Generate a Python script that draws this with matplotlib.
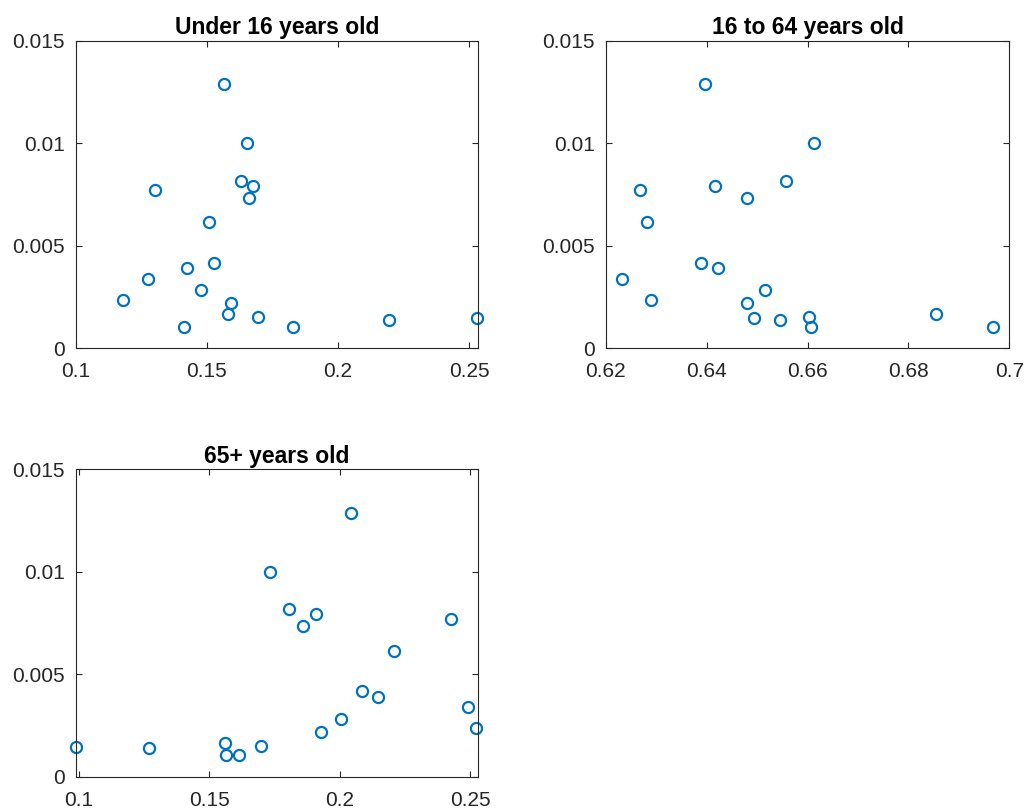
import matplotlib
matplotlib.use("Agg")
import matplotlib.pyplot as plt
from matplotlib.ticker import FuncFormatter, FixedLocator

# Shared y values (rate) for each of the 19 regions
rate = [0.01288, 0.01000, 0.00817, 0.00793, 0.00735, 0.00771, 0.00615, 0.00417,
        0.00391, 0.00339, 0.00283, 0.00236, 0.00220, 0.00166, 0.00151, 0.00140,
        0.00146, 0.00104, 0.00104]

# Population share per age group (x values)
under16 = [0.1564, 0.1653, 0.1631, 0.1674, 0.1660, 0.1304, 0.1508, 0.1528,
           0.1425, 0.1274, 0.1476, 0.1179, 0.1590, 0.1582, 0.1695, 0.2195,
           0.2531, 0.1413, 0.1828]
age16_64 = [0.6396, 0.6612, 0.6558, 0.6417, 0.6481, 0.6268, 0.6281, 0.6388,
            0.6422, 0.6232, 0.6516, 0.6289, 0.6481, 0.6855, 0.6602, 0.6546,
            0.6494, 0.6967, 0.6607]
age65 = [0.2043, 0.1732, 0.1807, 0.1907, 0.1858, 0.2426, 0.2206, 0.2084,
         0.2146, 0.2491, 0.2006, 0.2523, 0.1928, 0.1559, 0.1698, 0.1270,
         0.0988, 0.1614, 0.1563]

titles = ["Under 16 years old", "16 to 64 years old", "65+ years old"]
yticks = [0, 0.005, 0.01, 0.015]
xticks_list = [[0.1, 0.15, 0.2, 0.25],
               [0.62, 0.64, 0.66, 0.68, 0.70],
               [0.1, 0.15, 0.2, 0.25]]
xlims = [(0.1, 0.2532), (0.62, 0.70), (0.0988, 0.2528)]

plt.rcParams['font.family'] = ['Liberation Sans', 'DejaVu Sans']

W, H = 1032, 810
fig = plt.figure(figsize=(W / 100, H / 100), dpi=100)
fig.patch.set_facecolor('white')

positions = [
    (75.7, 40.7, 477.7, 348.3),
    (605.7, 40.7, 1009.3, 348.3),
    (75.7, 469.3, 477.7, 776.7),
]

blue = '#0072BD'
axcol = '#262626'
fmt = FuncFormatter(lambda v, p: ('%g' % round(v, 6)))

for (l, t, r, b), xs, title, xt, xl in zip(positions, [under16, age16_64, age65],
                                          titles, xticks_list, xlims):
    ax = fig.add_axes([l / W, 1 - b / H, (r - l) / W, (b - t) / H])
    ax.plot(xs, rate, linestyle='none', marker='o', markersize=8.0,
            markerfacecolor='none', markeredgecolor=blue, markeredgewidth=1.6,
            clip_on=False)
    ax.set_xlim(*xl)
    ax.set_ylim(0, 0.015)
    ax.xaxis.set_major_locator(FixedLocator(xt))
    ax.yaxis.set_major_locator(FixedLocator(yticks))
    ax.xaxis.set_major_formatter(fmt)
    ax.yaxis.set_major_formatter(fmt)
    for s in ax.spines.values():
        s.set_color(axcol)
        s.set_linewidth(0.8)
    ax.tick_params(direction='in', length=4.5, width=0.8, color=axcol,
                   labelcolor=axcol, labelsize=15, top=True, right=True)
    ax.tick_params(axis='x', pad=10)
    ax.tick_params(axis='y', pad=8)
    ax.set_title(title, fontsize=16.5, fontweight='bold', color='black', pad=4.5)

fig.savefig('out.png', dpi=100, facecolor='white')
